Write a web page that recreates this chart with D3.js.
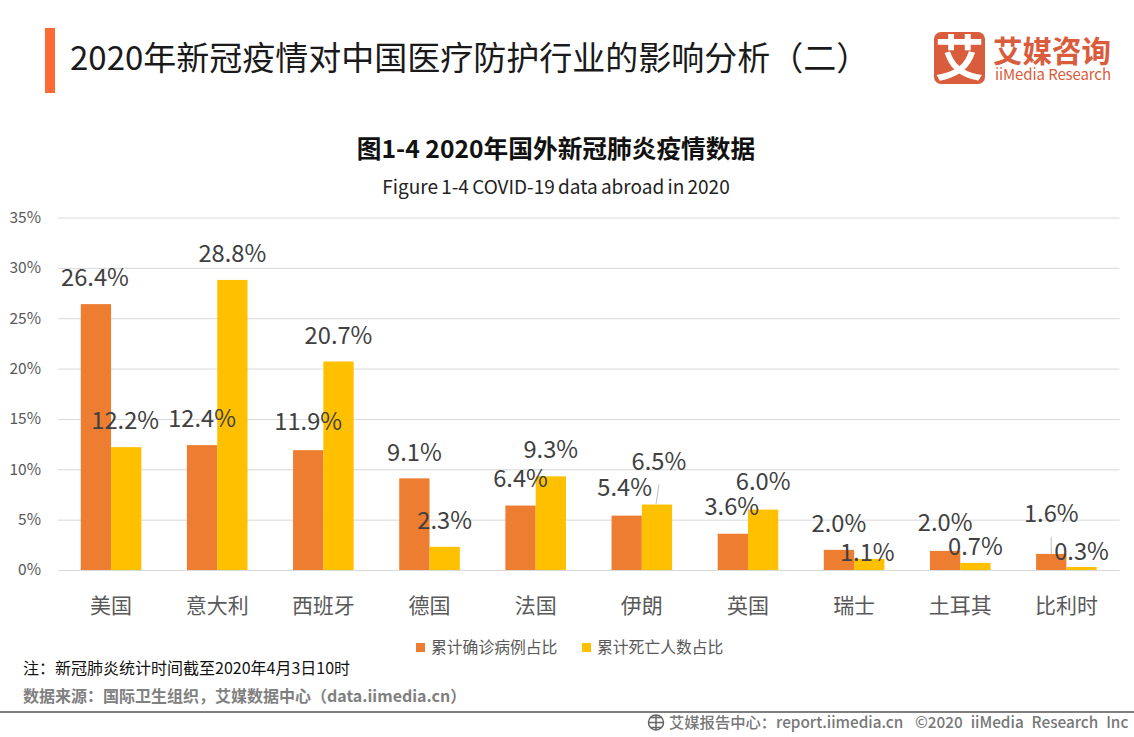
<!DOCTYPE html>
<html><head><meta charset="utf-8">
<script src="https://cdnjs.cloudflare.com/ajax/libs/d3/7.8.5/d3.min.js"></script>
<style>html,body{margin:0;padding:0;background:#fff}svg{display:block}text{font-family:"Noto Sans CJK SC","Noto Sans",sans-serif}</style>
</head><body><svg id="c" width="1134" height="737"></svg>
<script>
const categories=["美国","意大利","西班牙","德国","法国","伊朗","英国","瑞士","土耳其","比利时"];
const seriesNames=["累计确诊病例占比","累计死亡人数占比"];
const confirmed=[26.4,12.4,11.9,9.1,6.4,5.4,3.6,2.0,1.9,1.6];
const confirmedLabels=["26.4%","12.4%","11.9%","9.1%","6.4%","5.4%","3.6%","2.0%","2.0%","1.6%"];
const deaths=[12.2,28.8,20.7,2.3,9.3,6.5,6.0,1.1,0.7,0.3];
const deathLabels=["12.2%","28.8%","20.7%","2.3%","9.3%","6.5%","6.0%","1.1%","0.7%","0.3%"];
const yTicks=[0,5,10,15,20,25,30,35];
// manual label placement (label centre relative to bar top-centre), layout only
const confirmedOffsets=[[-1,-26],[0,-26],[0,-28],[0,-26],[0,-27],[-2,-28],[-1,-27],[0,-26],[0,-28],[0,-40]];
const deathOffsets=[[-1,-26],[0,-26],[0,-26],[0,-26],[0,-27],[2,-43],[0,-28],[-2,-6],[0,-16],[0,-15]];
const colors=["#ED7D31","#FFC000"];
const svg=d3.select("#c");
const x=d3.scaleBand().domain(categories).range([58,1119.5]);
const y=d3.scaleLinear().domain([0,35]).range([570,217.5]);
const barW=30.3;
// header
svg.append("rect").attr("x",45).attr("y",28).attr("width",10).attr("height",65).attr("fill","#FC6A35");
svg.append("text").attr("x",70).attr("y",70).attr("font-size",33).attr("fill","#1a1a1a").text("2020年新冠疫情对中国医疗防护行业的影响分析（二）");
// logo
const logo=svg.append("g");
logo.append("rect").attr("x",934).attr("y",32).attr("width",51).attr("height",52).attr("rx",7).attr("fill","#D95C3D");
logo.append("text").attr("x",959.5).attr("y",76).attr("text-anchor","middle").attr("font-size",49).attr("font-weight",700).attr("fill","#fff").text("艾");
logo.append("text").attr("x",993).attr("y",62).attr("font-size",29.5).attr("font-weight",700).attr("fill","#D95C3D").text("艾媒咨询");
logo.append("text").attr("x",995).attr("y",80).attr("font-size",15).attr("fill","#D95C3D").attr("textLength",116).text("iiMedia Research");
// titles
svg.append("text").attr("x",556).attr("y",158).attr("text-anchor","middle").attr("font-size",24.7).attr("font-weight",700).attr("fill","#111").text("图1-4 2020年国外新冠肺炎疫情数据");
svg.append("text").attr("x",556).attr("y",194).attr("text-anchor","middle").attr("font-size",19).attr("word-spacing",-1).attr("fill","#222").text("Figure 1-4 COVID-19 data abroad in 2020");
// axes
const yAxis=d3.axisLeft(y).tickValues(yTicks).tickFormat(d=>d+"%").tickSize(-1061.5).tickPadding(17);
const gy=svg.append("g").attr("transform","translate(58,0)").call(yAxis);
gy.select(".domain").remove();
gy.selectAll("line").attr("stroke","#D9D9D9").attr("stroke-width",1);
gy.selectAll("text").attr("font-size",15.5).attr("fill","#595959");
const xAxis=d3.axisBottom(x).tickSize(0).tickPadding(28);
const gx=svg.append("g").attr("transform","translate(0,570)").call(xAxis);
gx.select(".domain").remove();
gx.selectAll("text").attr("font-size",21).attr("fill","#595959");
// bars
const groups=[confirmed,deaths];
groups.forEach((vals,s)=>{
  svg.append("g").selectAll("rect").data(vals).join("rect")
   .attr("x",(d,i)=>x(categories[i])+x.bandwidth()/2+(s-1)*barW)
   .attr("y",d=>y(d)).attr("width",barW).attr("height",d=>y(0)-y(d)).attr("fill",colors[s]);
});
// leader lines
const leaders=[{s:1,i:5,dx1:-1,dy1:0,dx2:2,dy2:-20},{s:0,i:9,dx1:0,dy1:0,dx2:0,dy2:-17}];
leaders.forEach(l=>{
  const cx=x(categories[l.i])+x.bandwidth()/2+(l.s-0.5)*barW, v=groups[l.s][l.i];
  svg.append("line").attr("x1",cx+l.dx1).attr("x2",cx+l.dx2).attr("y1",y(v)+l.dy1).attr("y2",y(v)+l.dy2).attr("stroke","#BFBFBF").attr("stroke-width",1);
});
// labels
[[confirmed,confirmedLabels,confirmedOffsets],[deaths,deathLabels,deathOffsets]].forEach(([vals,labs,offs],s)=>{
  svg.append("g").selectAll("text").data(vals).join("text")
   .attr("x",(d,i)=>x(categories[i])+x.bandwidth()/2+(s-0.5)*barW+offs[i][0])
   .attr("y",(d,i)=>y(d)+offs[i][1]).attr("dy","0.35em").attr("text-anchor","middle")
   .attr("font-size",23.7).attr("fill","#404040").text((d,i)=>labs[i]);
});
// legend
const lg=[[416,431],[582,597]];
lg.forEach((p,i)=>{
  svg.append("rect").attr("x",p[0]).attr("y",643).attr("width",9).attr("height",9).attr("fill",colors[i]);
  svg.append("text").attr("x",p[1]).attr("y",653).attr("font-size",15.8).attr("fill","#595959").text(seriesNames[i]);
});
// notes
svg.append("text").attr("x",23).attr("y",674).attr("font-size",16).attr("fill","#111").text("注：新冠肺炎统计时间截至2020年4月3日10时");
svg.append("text").attr("x",23).attr("y",702).attr("font-size",16).attr("font-weight",700).attr("fill","#808080").text("数据来源：国际卫生组织，艾媒数据中心（data.iimedia.cn）");
svg.append("rect").attr("x",0).attr("y",711).attr("width",1134).attr("height",2).attr("fill","#808080");
// footer
const globe=svg.append("g").attr("fill","none").attr("stroke","#666").attr("stroke-width",1.5);
globe.append("circle").attr("cx",656).attr("cy",722.5).attr("r",7.5);
globe.append("path").attr("d","M649 722.5H664M656 715V730M651 717.5H661M651 727.5H661");
svg.append("text").attr("x",669).attr("y",728).attr("font-size",15.3).attr("font-weight",500).attr("fill","#777").text("艾媒报告中心：report.iimedia.cn");
svg.append("text").attr("x",915).attr("y",728).attr("font-size",15.3).attr("font-weight",500).attr("word-spacing",4.5).attr("fill","#777").text("©2020  iiMedia Research  Inc");
</script></body></html>
